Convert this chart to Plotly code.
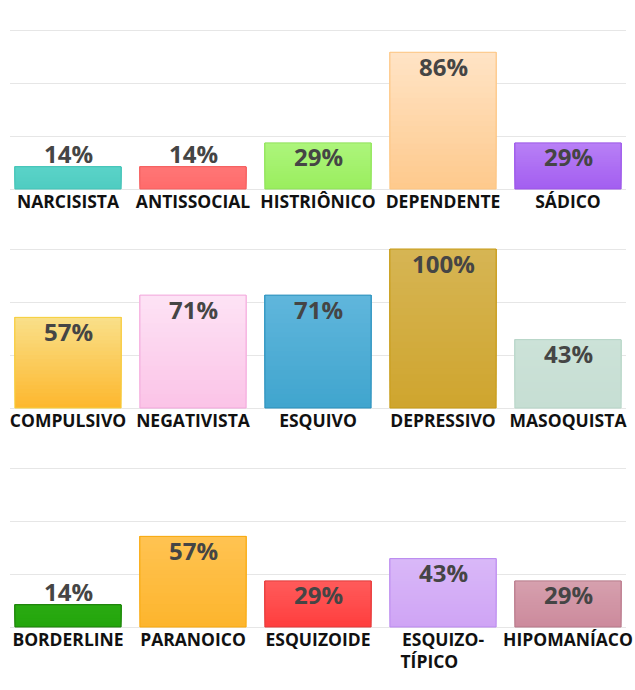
import plotly.graph_objects as go

# ---- data ----
row1_labels = ["NARCISISTA", "ANTISSOCIAL", "HISTRIÔNICO", "DEPENDENTE", "SÁDICO"]
row1_values = [0.14, 0.14, 0.29, 0.86, 0.29]
row2_labels = ["COMPULSIVO", "NEGATIVISTA", "ESQUIVO", "DEPRESSIVO", "MASOQUISTA"]
row2_values = [0.57, 0.71, 0.71, 1.00, 0.43]
row3_labels = ["BORDERLINE", "PARANOICO", "ESQUIZOIDE",
               "ESQUIZO-<br>TÍPICO\u00a0\u00a0\u00a0\u00a0\u00a0\u00a0", "HIPOMANÍACO"]
row3_values = [0.14, 0.57, 0.29, 0.43, 0.29]

# ---- styles (gradient top / bottom colours, outline) ----
row1_top = ["#5ad3c8", "#ff7676", "#adf57c", "#ffe4c6", "#b880f6"]
row1_bot = ["#50ccc1", "#ff6c6c", "#9aee5e", "#fec98c", "#a35ef0"]
row1_lines = ["#45c2b6", "#f25e5e", "#8fe05a", "#fdc580", "#9a55e6"]
row2_top = ["#f9e08a", "#fde3f5", "#60b6dc", "#d6b554", "#cce2d8"]
row2_bot = ["#fdb72d", "#fbc3e7", "#40a5ce", "#cfa52e", "#c6ded3"]
row2_lines = ["#f5cf3c", "#f2a6dc", "#2a8fbb", "#c69a14", "#b6d5c7"]
row3_top = ["#2aab12", "#ffc352", "#ff5b5b", "#d9b8f8", "#d6a0ae"]
row3_bot = ["#24a50c", "#fdb52d", "#ff3e3e", "#cfa4f5", "#cc8a9c"]
row3_lines = ["#1d7c0b", "#f7a80d", "#df3a3a", "#b988ee", "#b57889"]

W, H = 635, 690
x0_px, x1_px = 10, 626
rows_px = [(30, 189), (249, 408), (468, 627)]
PAD = 0.03   # y-range padding so edge gridlines are drawn
NSTEP = 24   # gradient layers per bar
BAR_W = 0.85

FONT = "Open Sans"
LABEL_FONT = dict(family=FONT, size=24, color="#454545", weight="bold")


def hex2rgb(h):
    h = h.lstrip("#")
    return tuple(int(h[k:k + 2], 16) for k in (0, 2, 4))


def mix(c_bot, c_top, t):
    a, b = hex2rgb(c_bot), hex2rgb(c_top)
    return "rgb({},{},{})".format(*[round(a[k] + (b[k] - a[k]) * t) for k in range(3)])


fig = go.Figure()

data = [(row1_labels, row1_values, row1_top, row1_bot, row1_lines),
        (row2_labels, row2_values, row2_top, row2_bot, row2_lines),
        (row3_labels, row3_values, row3_top, row3_bot, row3_lines)]

annotations = []
for i, (labs, vals, tops, bots, lines) in enumerate(data):
    ax = "" if i == 0 else str(i + 1)
    xs = list(range(len(labs)))
    # gradient fill: overlapping layers, each reaching the bar top
    for k in range(NSTEP):
        t = (k + 0.5) / NSTEP
        fig.add_trace(go.Bar(
            x=xs, y=[v * (1 - k / NSTEP) for v in vals],
            base=[v * k / NSTEP for v in vals],
            xaxis="x" + ax, yaxis="y" + ax,
            width=BAR_W,
            marker=dict(color=[mix(b, tp, t) for b, tp in zip(bots, tops)],
                        line=dict(width=0)),
            hoverinfo="skip", showlegend=False,
        ))
    # outline
    fig.add_trace(go.Bar(
        x=xs, y=vals,
        xaxis="x" + ax, yaxis="y" + ax,
        width=BAR_W,
        marker=dict(color="rgba(0,0,0,0)", line=dict(color=lines, width=1)),
        hoverinfo="skip", showlegend=False,
    ))
    for j, v in enumerate(vals):
        inside = v >= 0.2
        annotations.append(dict(
            x=j, y=v, xref="x" + ax, yref="y" + ax,
            text=f"{round(v*100)}%", showarrow=False,
            font=LABEL_FONT,
            yanchor="middle",
            yshift=-14 if inside else 13,
        ))
    top, bot = rows_px[i]
    span = bot - top
    top_d, bot_d = top - PAD * span, bot + PAD * span
    fig.layout["xaxis" + ax] = dict(
        domain=[x0_px / W, x1_px / W],
        range=[-0.464, 4.464],
        anchor="free",
        position=1 - bot / H,
        automargin=False,
        tickmode="array",
        tickvals=xs,
        ticktext=labs,
        tickfont=dict(family=FONT, size=17.5, color="#111111", weight="bold"),
        showgrid=False, showline=False, zeroline=False,
        ticks="", fixedrange=True,
    )
    fig.layout["yaxis" + ax] = dict(
        domain=[1 - bot_d / H, 1 - top_d / H],
        range=[-PAD, 1 + PAD],
        anchor="x" + ax,
        automargin=False,
        tickmode="array",
        tickvals=[0, 1/3, 2/3, 1],
        showticklabels=False,
        showgrid=True, gridcolor="#e6e6e6", gridwidth=1.3,
        zeroline=False, showline=False, ticks="", fixedrange=True,
    )

fig.update_layout(
    width=W, height=H,
    margin=dict(l=0, r=0, t=0, b=0),
    paper_bgcolor="white", plot_bgcolor="white",
    font=dict(family=FONT),
    barmode="overlay",
    annotations=annotations,
)

fig.write_html("out.html", config={"displayModeBar": False})
